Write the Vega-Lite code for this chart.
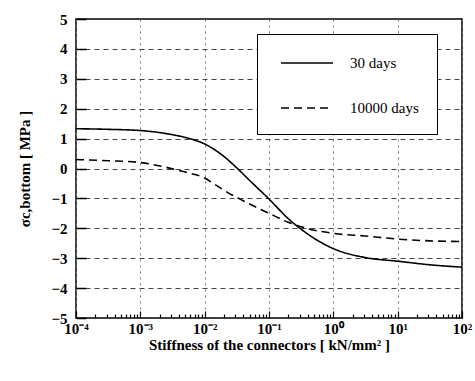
{
  "$schema": "https://vega.github.io/schema/vega-lite/v6.json",
  "width": 386,
  "height": 299,
  "autosize": {"type": "none"},
  "padding": {"left": 76, "top": 19, "right": 13, "bottom": 63},
  "background": "white",
  "config": {
    "view": {"stroke": "black", "strokeWidth": 1.5},
    "font": "Liberation Serif"
  },
  "data": {
    "values": [
      {"k": 0.0001, "s": 1.33, "series": "30 days"},
      {"k": 0.000316, "s": 1.31, "series": "30 days"},
      {"k": 0.001, "s": 1.27, "series": "30 days"},
      {"k": 0.00316, "s": 1.13, "series": "30 days"},
      {"k": 0.00631, "s": 0.98, "series": "30 days"},
      {"k": 0.01, "s": 0.82, "series": "30 days"},
      {"k": 0.02, "s": 0.4, "series": "30 days"},
      {"k": 0.0316, "s": 0.02, "series": "30 days"},
      {"k": 0.05, "s": -0.4, "series": "30 days"},
      {"k": 0.1, "s": -1.02, "series": "30 days"},
      {"k": 0.2, "s": -1.68, "series": "30 days"},
      {"k": 0.316, "s": -2.03, "series": "30 days"},
      {"k": 0.562, "s": -2.4, "series": "30 days"},
      {"k": 1, "s": -2.68, "series": "30 days"},
      {"k": 3.16, "s": -2.98, "series": "30 days"},
      {"k": 10, "s": -3.1, "series": "30 days"},
      {"k": 31.6, "s": -3.22, "series": "30 days"},
      {"k": 100, "s": -3.3, "series": "30 days"},
      {"k": 0.0001, "s": 0.3, "series": "10000 days"},
      {"k": 0.000316, "s": 0.26, "series": "10000 days"},
      {"k": 0.001, "s": 0.2, "series": "10000 days"},
      {"k": 0.00251, "s": 0.04, "series": "10000 days"},
      {"k": 0.005, "s": -0.12, "series": "10000 days"},
      {"k": 0.01, "s": -0.32, "series": "10000 days"},
      {"k": 0.0141, "s": -0.52, "series": "10000 days"},
      {"k": 0.02, "s": -0.73, "series": "10000 days"},
      {"k": 0.0398, "s": -1.08, "series": "10000 days"},
      {"k": 0.1, "s": -1.5, "series": "10000 days"},
      {"k": 0.2, "s": -1.8, "series": "10000 days"},
      {"k": 0.398, "s": -2.01, "series": "10000 days"},
      {"k": 1, "s": -2.17, "series": "10000 days"},
      {"k": 3.16, "s": -2.26, "series": "10000 days"},
      {"k": 10, "s": -2.36, "series": "10000 days"},
      {"k": 31.6, "s": -2.42, "series": "10000 days"},
      {"k": 100, "s": -2.44, "series": "10000 days"}
    ]
  },
  "mark": {"type": "line", "interpolate": "monotone", "color": "black", "strokeWidth": 1.6},
  "encoding": {
    "x": {
      "field": "k",
      "type": "quantitative",
      "scale": {"type": "log", "domain": [0.0001, 100], "nice": false},
      "axis": {
        "values": [0.0001, 0.0002, 0.0003, 0.0004, 0.0005, 0.0006, 0.0007, 0.0008, 0.0009,
                   0.001, 0.002, 0.003, 0.004, 0.005, 0.006, 0.007, 0.008, 0.009,
                   0.01, 0.02, 0.03, 0.04, 0.05, 0.06, 0.07, 0.08, 0.09,
                   0.1, 0.2, 0.3, 0.4, 0.5, 0.6, 0.7, 0.8, 0.9,
                   1, 2, 3, 4, 5, 6, 7, 8, 9,
                   10, 20, 30, 40, 50, 60, 70, 80, 90, 100],
        "labelExpr": "datum.value==0.0001?'10⁻⁴':datum.value==0.001?'10⁻³':datum.value==0.01?'10⁻²':datum.value==0.1?'10⁻¹':datum.value==1?'10⁰':datum.value==10?'10¹':datum.value==100?'10²':''",
        "title": "Stiffness of the connectors [ kN/mm² ]",
        "domain": false,
        "tickColor": "black",
        "tickWidth": 1.2,
        "tickSize": {"condition": {"test": "indexof([0.0001,0.001,0.01,0.1,1,10,100], datum.value) >= 0", "value": -7}, "value": -4},
        "grid": true,
        "gridColor": "#777",
        "gridDash": [2, 4],
        "gridWidth": 1,
        "gridOpacity": {"condition": {"test": "indexof([0.0001,0.001,0.01,0.1,1,10,100], datum.value) >= 0", "value": 1}, "value": 0},
        "labelFont": "Liberation Serif",
        "labelFontSize": 15,
        "labelFontWeight": "bold",
        "labelColor": "black",
        "labelPadding": 10,
        "labelFlush": false,
        "labelOverlap": false,
        "labelBound": false,
        "titleFont": "Liberation Serif",
        "titleFontSize": 15,
        "titleFontWeight": "bold",
        "titleColor": "black",
        "titlePadding": -2
      }
    },
    "y": {
      "field": "s",
      "type": "quantitative",
      "scale": {"domain": [-5, 5], "nice": false, "zero": false},
      "axis": {
        "values": [-5, -4, -3, -2, -1, 0, 1, 2, 3, 4, 5],
        "title": "σc,bottom [ MPa ]",
        "domain": false,
        "tickColor": "black",
        "tickWidth": 1.5,
        "tickSize": -10,
        "grid": true,
        "gridColor": "#444",
        "gridDash": [5, 4],
        "gridWidth": 1,
        "labelFont": "Liberation Serif",
        "labelFontSize": 15,
        "labelFontWeight": "bold",
        "labelColor": "black",
        "labelPadding": 19,
        "labelFlush": false,
        "labelOverlap": false,
        "labelBound": false,
        "titleFont": "Liberation Serif",
        "titleFontSize": 15,
        "titleFontWeight": "bold",
        "titleColor": "black",
        "titlePadding": 18
      }
    },
    "strokeDash": {
      "field": "series",
      "type": "nominal",
      "scale": {"domain": ["30 days", "10000 days"], "range": [[1, 0], [8, 5]]},
      "legend": {
        "title": null,
        "orient": "none",
        "legendX": 181,
        "legendY": 15,
        "strokeColor": "black",
        "fillColor": "white",
        "padding": 18,
        "rowPadding": 26,
        "symbolType": "M-2.6,0H2.6",
        "symbolSize": 400,
        "symbolOffset": 21,
        "symbolStrokeColor": "black",
        "symbolStrokeWidth": 1.6,
        "symbolFillColor": "transparent",
        "labelOffset": 32,
        "labelFont": "Liberation Serif",
        "labelFontSize": 15,
        "labelColor": "black",
        "labelExpr": "datum.label + '\u2003\u2003\u2003\u2003\u2002\u2009'"
      }
    }
  }
}
